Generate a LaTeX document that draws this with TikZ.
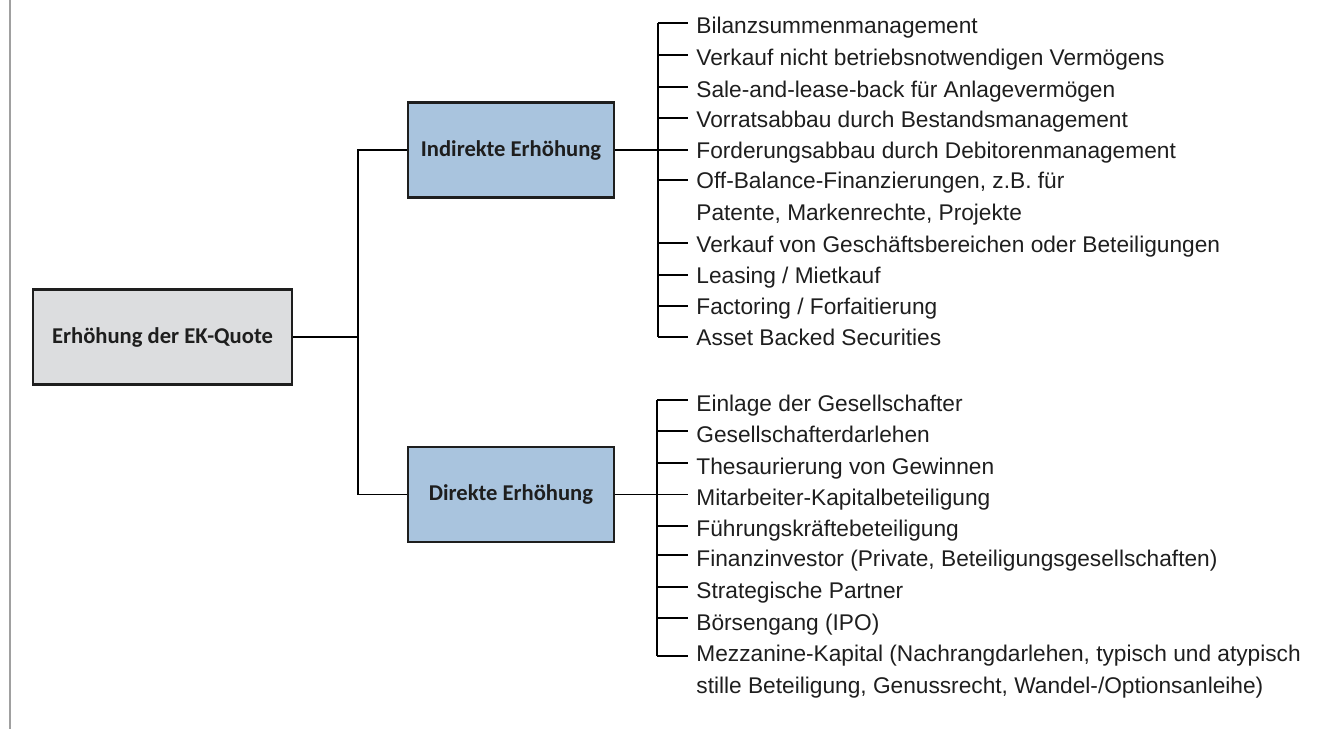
\documentclass[tikz,border=0pt]{standalone}
\usepackage{fontspec}
\setmainfont{Liberation Sans}
\newfontfamily\boxfont{Carlito}
\definecolor{rootfill}{HTML}{DCDDDF}
\definecolor{bluefill}{HTML}{A9C4DE}
\definecolor{boxline}{HTML}{1E1E1E}
\definecolor{itemtext}{HTML}{1E1E1E}
\definecolor{frameline}{HTML}{A0A0A0}
\begin{document}
\begin{tikzpicture}[x=0.5pt,y=-0.5pt,
  box/.style={draw=boxline, line width=1.2pt, minimum height=47.5pt, inner sep=0pt,
    text=itemtext, font=\boxfont\bfseries\fontsize{11.3}{13}\selectfont},
  item/.style={anchor=base west, inner xsep=4pt, inner ysep=0pt, align=left,
    text=itemtext, font=\fontsize{11.35}{15.6}\selectfont},
  conn/.style={line width=0.75pt, draw=black},
  frame/.style={line width=1pt, draw=frameline}]
\useasboundingbox (0,0) rectangle (1319,729);
% left frame line
\coordinate (ft) at (10,0);
\coordinate (fb) at (10,729);
\draw[frame] (ft) -- (fb);

% boxes
\node[box, fill=rootfill, minimum width=129.5pt] (root) at (162.5,337) {Erhöhung der EK-Quote};
\node[box, fill=bluefill, minimum width=103pt] (ind) at (511,150) {Indirekte Erhöhung};
\node[box, fill=bluefill, minimum width=103pt] (dir) at (511,494.5) {Direkte Erhöhung};

% trunk
\coordinate (tr) at (358,337);
\draw[conn] (root.east) -- (root.east -| tr);
\draw[conn] (ind.west) -- (ind.west -| tr) -- (dir.west -| tr) -- (dir.west);

% indirect items (two-line items are placed by the baseline of their last line)
\node[item] (i0) at (688,33) {Bilanzsummenmanagement};
\node[item] (i1) at (688,65) {Verkauf nicht betriebsnotwendigen Vermögens};
\node[item] (i2) at (688,97) {Sale-and-lease-back für Anlagevermögen};
\node[item] (i3) at (688,127.5) {Vorratsabbau durch Bestandsmanagement};
\node[item] (i4) at (688,158.5) {Forderungsabbau durch Debitorenmanagement};
\node[item] (i5) at (688,220) {Off-Balance-Finanzierungen, z.B. für\\Patente, Markenrechte, Projekte};
\node[item] (i6) at (688,252) {Verkauf von Geschäftsbereichen oder Beteiligungen};
\node[item] (i7) at (688,283) {Leasing / Mietkauf};
\node[item] (i8) at (688,314.5) {Factoring / Forfaitierung};
\node[item] (i9) at (688,345.5) {Asset Backed Securities};
\foreach \n/\t in {0/23,1/55,2/87,3/118,4/150,5/180,6/243,7/275,8/306,9/337}{
  \coordinate (ib\n) at (658,\t);
  \draw[conn] (ib\n) -- (ib\n -| i\n.west);
}
\draw[conn] (ib0) -- (ib9);
\draw[conn] (ind.east) -- (ind.east -| ib4);

% direct items
\node[item] (d0) at (688,411) {Einlage der Gesellschafter};
\node[item] (d1) at (688,442.5) {Gesellschafterdarlehen};
\node[item] (d2) at (688,474) {Thesaurierung von Gewinnen};
\node[item] (d3) at (688,505.5) {Mitarbeiter-Kapitalbeteiligung};
\node[item] (d4) at (688,536.5) {Führungskräftebeteiligung};
\node[item] (d5) at (688,566.5) {Finanzinvestor (Private, Beteiligungsgesellschaften)};
\node[item] (d6) at (688,598) {Strategische Partner};
\node[item] (d7) at (688,630) {Börsengang (IPO)};
\node[item] (d8) at (688,693) {Mezzanine-Kapital (Nachrangdarlehen, typisch und atypisch\\stille Beteiligung, Genussrecht, Wandel-/Optionsanleihe)};
\foreach \n/\t in {0/400,1/431,2/463,3/494.5,4/526,5/555,6/587,7/618,8/656}{
  \coordinate (db\n) at (657,\t);
  \draw[conn] (db\n) -- (db\n -| d\n.west);
}
\draw[conn] (db0) -- (db8);
\draw[conn] (dir.east) -- (dir.east -| db3);
\end{tikzpicture}
\end{document}
